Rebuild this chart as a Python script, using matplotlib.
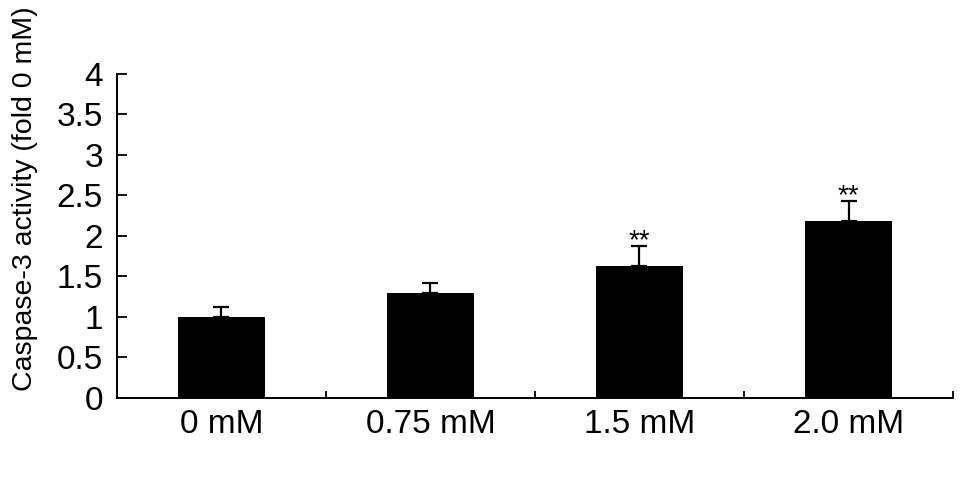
import numpy as np
import matplotlib.pyplot as plt

plt.rcParams['font.family'] = ['Liberation Sans', 'DejaVu Sans']

groups = ['0 mM', '0.75 mM', '1.5 mM', '2.0 mM']
activity = [1.0, 1.29, 1.63, 2.18]
err = [0.12, 0.13, 0.25, 0.25]
signif = ['', '', '**', '**']

fig = plt.figure(figsize=(9.69, 4.78), dpi=100)
ax = fig.add_axes([0.1207, 0.1674, 0.8628, 0.6778])

x = np.arange(len(groups))
ax.bar(x, activity, width=0.415, color='black', zorder=2)
ax.errorbar(x, activity, yerr=[np.zeros(len(err)), err], fmt='none',
            ecolor='black', elinewidth=1.6, capsize=5.5, capthick=1.6, zorder=3)
for xi, v, e, s in zip(x, activity, err, signif):
    if s:
        ax.text(xi, v + e - 0.03, s, ha='center', va='baseline', fontsize=20)

ax.set_xlim(-0.5, 3.5)
ax.set_ylim(0, 4)
ax.set_yticks(np.arange(0, 4.01, 0.5))
ax.set_yticklabels(['0', '0.5', '1', '1.5', '2', '2.5', '3', '3.5', '4'])
ax.set_xticks(x)
ax.set_xticklabels(groups)
ax.set_xticks(np.arange(0.5, 3.6, 1), minor=True)
ax.tick_params(axis='x', which='major', length=0, labelsize=24, pad=8)
ax.tick_params(axis='x', which='minor', direction='in', length=5, width=1.3)
ax.tick_params(axis='y', direction='in', length=7, width=1.3, labelsize=24, pad=10)
ax.set_ylabel('Caspase-3 activity (fold 0 mM)', fontsize=20.5)
ax.yaxis.set_label_coords(-0.0945, 0.615)

for side in ['top', 'right']:
    ax.spines[side].set_visible(False)
for side in ['left', 'bottom']:
    ax.spines[side].set_linewidth(1.4)

fig.savefig('out.png', dpi=100)
